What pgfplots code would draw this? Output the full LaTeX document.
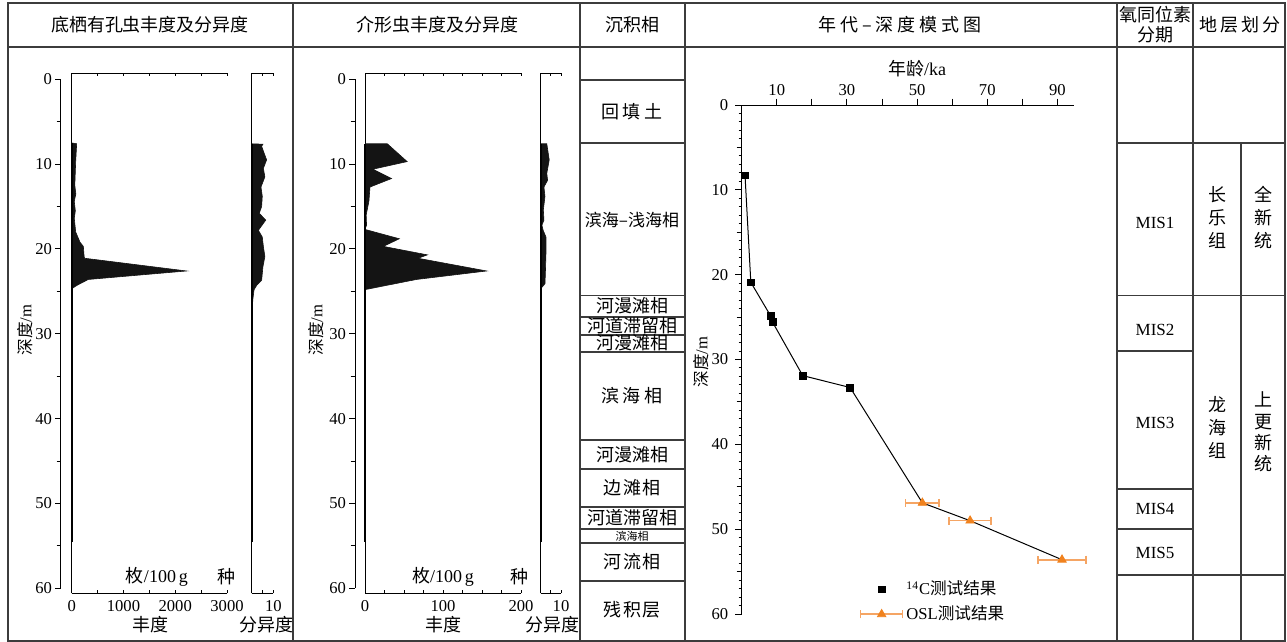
\documentclass[border=0pt]{standalone}
\usepackage{fontspec}
\usepackage{pgfplots}
\pgfplotsset{compat=1.18}
\usepackage{pgfplotstable}
\setmainfont{Liberation Serif}
\newfontfamily\cjk{Noto Sans CJK SC}
\definecolor{osl}{RGB}{240,130,30}
\definecolor{oslerr}{RGB}{245,165,100}
\definecolor{frm}{RGB}{60,60,60}

% foraminifera abundance (v = individuals/100 g, d = depth m)
\pgfplotstableread{
v d
0 7.5
96 7.6
77 9.7
60 12.5
80 13.5
50 14.4
70 15.5
50 16.4
77 18.0
160 19.2
225 19.7
240 20.9
250 21.1
2220 22.6
320 23.6
100 24.3
0 24.7
}\foramab
% foraminifera diversity (species)
\pgfplotstableread{
v d
0 7.6
5.2 7.65
4.6 7.9
6.9 9.5
5.4 10.5
6.1 11.5
4.3 12.7
4.9 13.8
4.6 15.0
3.5 15.8
6.5 16.6
3.1 17.8
4.9 18.6
5.4 19.7
6.1 20.9
5.2 22.1
4.6 23.7
2.3 24.3
1.1 24.8
0.5 26
0.2 27.6
0 28.5
}\foramdiv
% ostracod abundance
\pgfplotstableread{
v d
0 7.6
28.6 7.6
54 9.7
10 10.6
34 11.7
6.4 12.7
5 14.4
1.5 16
2 17.2
0 17.7
44 18.8
23.5 19.7
80 20.7
68 21.1
156 22.6
66 23.6
0 24.8
}\ostab
% ostracod diversity
\pgfplotstableread{
v d
0 7.6
3.0 7.6
4.2 9.5
3.0 11.1
3.4 11.9
1.6 12.7
2.1 13.8
1.3 15.4
1.6 16.6
0.6 17.2
1.2 17.8
2.6 18.6
2.6 20.5
2.3 22.9
2.1 24.1
0 24.7
}\ostdiv

\newcommand\tfont{\fontsize{8.3}{10}\selectfont}
\newcommand\hfont{\fontsize{9}{11}\selectfont}
\pgfplotsset{
  base/.style={
    scale only axis, y dir=reverse, clip=false,
    every tick/.style={black, line width=0.5pt},
    ticklabel style={font=\tfont},
    /pgf/number format/assume math mode=true,
    scaled ticks=false,
  },
  nolinearrows/.style={
    axis line style={-, black, line width=0.5pt},
    x axis line style={-}, y axis line style={-},
    every outer x axis line/.append style={-},
    every outer y axis line/.append style={-},
  },
  depthax/.style={base,
    at={#1}, anchor=north west,
    width=1pt, height=254.5pt,
    xmin=0, xmax=1, ymin=0, ymax=60,
    axis x line=none, axis y line=left, nolinearrows,
    ytick={0,10,...,60}, minor ytick={5,15,...,55},
    tick align=outside, major tick length=3pt, minor tick length=2.2pt,
    yticklabel style={xshift=2pt},
  },
  panel/.style 2 args={base,
    at={#1}, anchor=north west,
    width=#2, height=260pt,
    ymin=-0.71, ymax=60.61,
    axis x line=box, axis y line=left, nolinearrows,
    ytick=\empty, tick align=inside, major tick length=1.5pt,
  },
}

\begin{document}
\begin{tikzpicture}
\begin{scope}[x=0.5pt,y=-0.5pt]
\useasboundingbox (0,0) rectangle (1287,642);
% frame
\draw[frm, line width=0.6pt] (8,3) rectangle (1285,641);
\draw[frm, line width=0.6pt] (8,47) -- (1285,47);
\foreach \x in {293,580,685,1117,1193} \draw[frm, line width=0.6pt] (\x,3) -- (\x,641);
\draw[frm, line width=0.6pt] (1241,143) -- (1241,641);
\foreach \y in {80,143,295.5,317,335,352,440,469,507,529,543,581} \draw[frm, line width=0.6pt] (580,\y) -- (685,\y);
\foreach \y in {143,295.5,575} \draw[frm, line width=0.6pt] (1117,\y) -- (1285,\y);
\foreach \y in {351,489,529} \draw[frm, line width=0.6pt] (1117,\y) -- (1193,\y);
% headers
\begin{scope}[every node/.style={font=\hfont, inner sep=0pt}]
\node at (150,25) {\cjk 底栖有孔虫丰度及分异度};
\node at (437,25) {\cjk 介形虫丰度及分异度};
\node at (632,25) {\cjk 沉积相};
\node at (900,25) {\cjk 年\hspace{2pt}代\hspace{2pt}–\hspace{2pt}深\hspace{2pt}度\hspace{2pt}模\hspace{2pt}式\hspace{2pt}图};
\node at (1155,15) {\cjk 氧同位素};
\node at (1155,35) {\cjk 分期};
\node at (1240,25) {\cjk 地\hspace{1.5pt}层\hspace{1.5pt}划\hspace{1.5pt}分};
% facies
\node at (632,112) {\cjk 回\hspace{2pt}填\hspace{2pt}土};
\node[font=\fontsize{8.5}{10}\selectfont] at (632,220) {\cjk 滨海–浅海相};
\node at (632,306) {\cjk 河漫滩相};
\node at (632,326) {\cjk 河道滞留相};
\node at (632,343) {\cjk 河漫滩相};
\node at (632,396) {\cjk 滨\hspace{2pt}海\hspace{2pt}相};
\node at (632,455) {\cjk 河漫滩相};
\node at (632,488) {\cjk 边\hspace{1pt}滩\hspace{1pt}相};
\node at (632,518) {\cjk 河道滞留相};
\node[font=\fontsize{5.5}{6}\selectfont] at (632,536) {\cjk 滨海相};
\node at (632,562) {\cjk 河\hspace{1pt}流\hspace{1pt}相};
\node at (632,610) {\cjk 残\hspace{1pt}积\hspace{1pt}层};
% MIS
\node[font=\fontsize{8.5}{10}\selectfont] at (1155,223) {MIS1};
\node[font=\fontsize{8.5}{10}\selectfont] at (1155,330) {MIS2};
\node[font=\fontsize{8.5}{10}\selectfont] at (1155,423) {MIS3};
\node[font=\fontsize{8.5}{10}\selectfont] at (1155,509) {MIS4};
\node[font=\fontsize{8.5}{10}\selectfont] at (1155,553) {MIS5};
\node[align=center, font=\fontsize{9}{11.5}\selectfont] at (1217,218) {\cjk 长\\\cjk 乐\\\cjk 组};
\node[align=center, font=\fontsize{9}{11.5}\selectfont] at (1263,218) {\cjk 全\\\cjk 新\\\cjk 统};
\node[align=center, font=\fontsize{9}{11.5}\selectfont] at (1217,427) {\cjk 龙\\\cjk 海\\\cjk 组};
\node[align=center, font=\fontsize{9}{10.7}\selectfont] at (1263,432) {\cjk 上\\\cjk 更\\\cjk 新\\\cjk 统};
% panel labels
\node at (157,577) {{\cjk 枚}/100\,g};
\node at (226,577) {\cjk 种};
\node at (150,625) {\cjk 丰度};
\node at (266,625) {\cjk 分异度};
\node at (443,577) {{\cjk 枚}/100\,g};
\node at (519,577) {\cjk 种};
\node at (443,625) {\cjk 丰度};
\node at (552,625) {\cjk 分异度};
\node[rotate=90, font=\fontsize{8.3}{10}\selectfont] at (25,330) {{\cjk 深度}/m};
\node[rotate=90, font=\fontsize{8.3}{10}\selectfont] at (316,330) {{\cjk 深度}/m};
\node[rotate=90, font=\fontsize{8.3}{10}\selectfont] at (701,362) {{\cjk 深度}/m};
\node at (917,69) {{\cjk 年龄}/ka};
\end{scope}
\end{scope}

% ---------------- foraminifera ----------------
\begin{axis}[depthax={(30.5pt,-39.65pt)}]
\end{axis}
\begin{axis}[panel={(35.85pt,-36.65pt)}{77.65pt},
  xmin=0, xmax=3000, xtick={0,500,...,3000}, xticklabels={0,,1000,,2000,,3000}]
\addplot[fill=black!92, draw=black!92, line width=0.3pt] table[x=v,y=d] {\foramab};
\addplot[black, line width=1pt] coordinates {(0,7.5) (0,54.6)};
\end{axis}
\begin{axis}[panel={(125.85pt,-36.65pt)}{10.8pt},
  xmin=0, xmax=10, xtick={0,5,10}, xticklabels={,,10}]
\addplot[fill=black!92, draw=black!92, line width=0.3pt] table[x=v,y=d] {\foramdiv};
\addplot[black, line width=1pt] coordinates {(0,7.6) (0,54.6)};
\end{axis}

% ---------------- ostracods ----------------
\begin{axis}[depthax={(177.5pt,-39.65pt)}]
\end{axis}
\begin{axis}[panel={(182.5pt,-36.65pt)}{78pt},
  xmin=0, xmax=200, xtick={0,25,...,200}, xticklabels={0,,,,100,,,,200}]
\addplot[fill=black!92, draw=black!92, line width=0.3pt] table[x=v,y=d] {\ostab};
\addplot[black, line width=1pt] coordinates {(0,7.6) (0,54.6)};
\end{axis}
\begin{axis}[panel={(270.35pt,-36.65pt)}{10.15pt},
  xmin=0, xmax=10, xtick={0,5,10}, xticklabels={,,10}]
\addplot[fill=black!92, draw=black!92, line width=0.3pt] table[x=v,y=d] {\ostdiv};
\addplot[black, line width=1pt] coordinates {(0,7.6) (0,54.6)};
\end{axis}

% ---------------- age-depth ----------------
\begin{axis}[base,
  at={(370.85pt,-52.5pt)}, anchor=north west,
  width=166.3pt, height=254.5pt,
  xmin=0, xmax=94.8, ymin=0, ymax=60,
  axis x line=top, axis y line=left, nolinearrows,
  tick align=outside, major tick length=3.2pt, minor tick length=1.5pt,
  xtick={10,20,...,90}, xticklabels={10,,30,,50,,70,,90},
  xticklabel style={yshift=-2pt},
  ytick={0,10,...,60}, minor y tick num=9,
  extra y ticks={5,15,...,55}, extra y tick labels={},
  extra y tick style={major tick length=2.5pt},
  legend style={at={(0.336,0.024)}, anchor=west, draw=none, fill=none,
    font=\tfont, row sep=1pt, nodes={inner sep=1.5pt}},
  legend cell align=left,
]
\addplot[black, line width=0.5pt, forget plot] coordinates {
(0.95,8.3) (2.6,20.9) (8.3,24.9) (8.8,25.6) (17.4,31.9) (30.9,33.3)
(51.5,46.9) (65.1,49.0) (91.3,53.6)};
\addplot[only marks, mark=square*, mark size=1.7pt, black,
  legend image code/.code={%
    \path[draw=none, fill=none] (0pt,0pt) coordinate (lA) (21pt,0pt) coordinate (lB);
    \draw[only marks, mark=square*, mark size=1.7pt, black] plot coordinates {(10.5pt,0pt)};}]
  coordinates {(0.95,8.3) (2.6,20.9) (8.3,24.9) (8.8,25.6) (17.4,31.9) (30.9,33.3)};
\addlegendentry{\textsuperscript{14}C{\cjk 测试结果}}
\addplot[only marks, mark=triangle*, mark size=2.4pt, osl,
  legend image code/.code={%
    \draw[oslerr, line width=0.8pt] (0pt,0pt) -- (21pt,0pt)
      (0pt,-2pt) -- (0pt,2pt) (21pt,-2pt) -- (21pt,2pt);
    \draw[only marks, mark=triangle*, mark size=2.4pt, osl] plot coordinates {(10.5pt,0pt)};},
  error bars/.cd, x dir=both, x explicit,
  error bar style={oslerr, line width=0.8pt},
  error mark options={oslerr, mark size=2pt, line width=0.8pt, rotate=90}]
  coordinates {(51.5,46.9) +- (4.8,0) (65.1,49.0) +- (6.0,0) (91.3,53.6) +- (6.8,0)};
\addlegendentry{OSL{\cjk 测试结果}}
\end{axis}
\end{tikzpicture}
\end{document}
